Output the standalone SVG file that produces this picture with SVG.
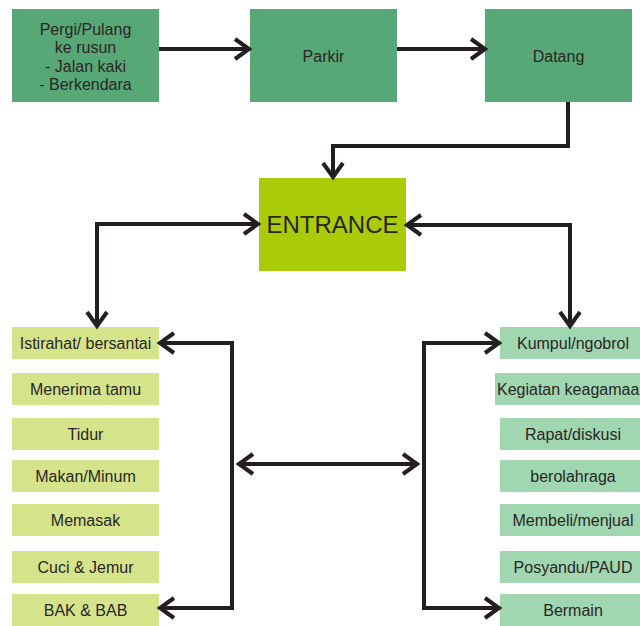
<svg xmlns="http://www.w3.org/2000/svg" width="640" height="626" viewBox="0 0 640 626">
  <defs>
    <style>
      text { font-family: "Liberation Sans", Arial, sans-serif; font-size: 16px; fill: #2a2626; text-anchor: middle; }
      .top { fill: #58a877; }
      .hub { fill: #aacb08; }
      .left { fill: #d5e48a; }
      .right { fill: #a0d6b0; }
      .link { fill: none; stroke: #231f20; stroke-width: 4; stroke-linejoin: miter; marker-end: url(#chev); }
      .both { marker-start: url(#chev); }
    </style>
    <marker id="chev" markerUnits="userSpaceOnUse" viewBox="-22 -14 26 28" markerWidth="26" markerHeight="28" refX="0" refY="0" orient="auto-start-reverse">
      <path d="M -15 -10 L -1 0 L -15 10" fill="none" stroke="#231f20" stroke-width="4" stroke-linejoin="miter"/>
    </marker>
  </defs>
  <rect width="640" height="626" fill="#ffffff"/>

  <!-- top row -->
  <g id="pergi">
    <rect class="top" x="12" y="9" width="147" height="93"/>
    <text x="85.5" y="35">Pergi/Pulang</text>
    <text x="85.5" y="53">ke rusun</text>
    <text x="85.5" y="71.5">- Jalan kaki</text>
    <text x="85.5" y="90">- Berkendara</text>
  </g>
  <g id="parkir">
    <rect class="top" x="250" y="9" width="147" height="93"/>
    <text x="323.5" y="62">Parkir</text>
  </g>
  <g id="datang">
    <rect class="top" x="485" y="9" width="147" height="93"/>
    <text x="558.5" y="62">Datang</text>
  </g>

  <!-- hub -->
  <g id="entrance">
    <rect class="hub" x="259" y="178" width="147" height="93"/>
    <text x="332.5" y="233" style="font-size:24px">ENTRANCE</text>
  </g>

  <!-- private activities -->
  <g id="istirahat"><rect class="left" x="12" y="327" width="147" height="32"/><text x="85.5" y="349">Istirahat/ bersantai</text></g>
  <g id="menerima"><rect class="left" x="12" y="373" width="147" height="32"/><text x="85.5" y="395">Menerima tamu</text></g>
  <g id="tidur"><rect class="left" x="12" y="418" width="147" height="32"/><text x="85.5" y="440">Tidur</text></g>
  <g id="makan"><rect class="left" x="12" y="460" width="147" height="32"/><text x="85.5" y="482">Makan/Minum</text></g>
  <g id="memasak"><rect class="left" x="12" y="504" width="147" height="32"/><text x="85.5" y="526">Memasak</text></g>
  <g id="cuci"><rect class="left" x="12" y="551" width="147" height="32"/><text x="85.5" y="573">Cuci &amp; Jemur</text></g>
  <g id="bak"><rect class="left" x="12" y="594" width="147" height="32"/><text x="85.5" y="616">BAK &amp; BAB</text></g>

  <!-- shared activities -->
  <g id="kumpul"><rect class="right" x="500" y="327" width="147" height="32"/><text x="573" y="349">Kumpul/ngobrol</text></g>
  <g id="kegiatan"><rect class="right" x="495" y="373" width="152" height="32"/><text x="497" y="395" style="text-anchor:start">Kegiatan keagamaa</text></g>
  <g id="rapat"><rect class="right" x="500" y="418" width="147" height="32"/><text x="573" y="440">Rapat/diskusi</text></g>
  <g id="olahraga"><rect class="right" x="500" y="460" width="147" height="32"/><text x="573" y="482">berolahraga</text></g>
  <g id="membeli"><rect class="right" x="500" y="504" width="147" height="32"/><text x="573" y="526">Membeli/menjual</text></g>
  <g id="posyandu"><rect class="right" x="500" y="551" width="147" height="32"/><text x="573" y="573">Posyandu/PAUD</text></g>
  <g id="bermain"><rect class="right" x="500" y="594" width="147" height="32"/><text x="573" y="616">Bermain</text></g>

  <!-- connectors -->
  <g id="connectors">
    <path class="link" d="M159 49 H250"/>
    <path class="link" d="M397 49 H486"/>
    <path class="link" d="M568 102 V146 H333 V178"/>
    <path class="link both" d="M259 224 H97 V327"/>
    <path class="link both" d="M406 225 H570 V327"/>
    <path class="link both" d="M159 343 H232 V608 H159"/>
    <path class="link both" d="M500 343 H424 V608 H500"/>
    <path class="link both" d="M238 464 H418"/>
  </g>
</svg>
